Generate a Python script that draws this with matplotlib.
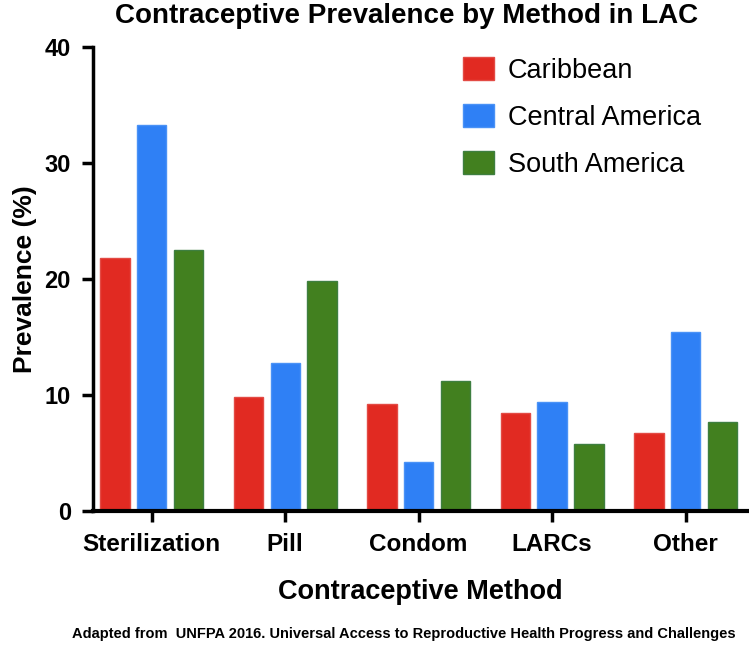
import matplotlib
matplotlib.use("Agg")
import matplotlib.pyplot as plt
import numpy as np

categories = ["Sterilization", "Pill", "Condom", "LARCs", "Other"]
series_names = ["Caribbean", "Central America", "South America"]
caribbean = [21.8, 9.8, 9.2, 8.4, 6.7]
central_america = [33.3, 12.7, 4.2, 9.4, 15.4]
south_america = [22.5, 19.8, 11.2, 5.7, 7.6]
yticks = [0, 10, 20, 30, 40]

fills = ["#E12A22", "#2F80F5", "#42801F"]
edges = ["#E34A44", "#4A92F6", "#3E7F40"]

plt.rcParams['font.family'] = ['Liberation Sans', 'DejaVu Sans']

fig = plt.figure(figsize=(7.49, 6.46), dpi=100)
ax = fig.add_axes([93/749, 1 - 510.5/646, (747 - 93)/749, (510.5 - 47)/646])

x = np.arange(len(categories))
spacing = 0.275
width = 0.22
data = [caribbean, central_america, south_america]
for i, (vals, name) in enumerate(zip(data, series_names)):
    ax.bar(x + (i - 1) * spacing, vals, width, color=fills[i], edgecolor=edges[i],
           linewidth=1.0, label=name, zorder=2)

ax.set_xlim(-0.44, 4.46)
ax.set_ylim(0, 40)
ax.set_yticks(yticks)
ax.set_yticklabels([str(t) for t in yticks], fontsize=17, fontweight='bold')
ax.set_xticks(x)
ax.set_xticklabels(categories, fontsize=17.5, fontweight='bold')
ax.tick_params(axis='both', direction='out', length=8, width=2.5, color='black')
ax.tick_params(axis='x', pad=8)
ax.tick_params(axis='y', pad=8)

for s in ['top', 'right']:
    ax.spines[s].set_visible(False)
ax.spines['left'].set_linewidth(2.5)
ax.spines['bottom'].set_linewidth(3)

ax.set_ylabel("Prevalence (%)", fontsize=19, fontweight='bold', labelpad=5)
ax.set_xlabel("Contraceptive Method", fontsize=19.5, fontweight='bold', labelpad=17)
fig.text(407/749, 1 - 16/646, "Contraceptive Prevalence by Method in LAC",
         ha='center', va='center', fontsize=20, fontweight='bold')
fig.text(404/749, 1 - 634/646,
         "Adapted from  UNFPA 2016. Universal Access to Reproductive Health Progress and Challenges",
         ha='center', va='center', fontsize=10.5, fontweight='bold')

leg = ax.legend(loc='upper left', bbox_to_anchor=(463/749, 1 - 57/646),
                bbox_transform=fig.transFigure, frameon=False, fontsize=19.5,
                handlelength=1.15, handleheight=0.94, handletextpad=0.5,
                labelspacing=0.74, borderpad=0, borderaxespad=0)

fig.savefig("out.png", dpi=100)
